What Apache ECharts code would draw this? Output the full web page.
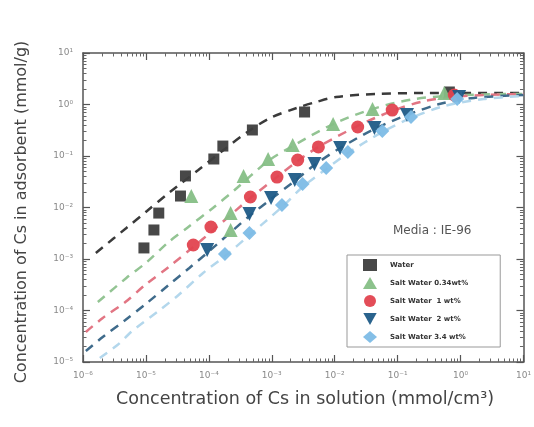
<!DOCTYPE html>
<html>
<head>
<meta charset="utf-8">
<script src="https://cdn.jsdelivr.net/npm/echarts@6/dist/echarts.min.js"></script>
<style>
  html, body { margin: 0; padding: 0; background: #fff; }
  #chart { width: 534px; height: 427px; }
</style>
</head>
<body>
<div id="chart"></div>
<script>
// tick labels
const xTickLabels = ['10⁻⁶', '10⁻⁵', '10⁻⁴', '10⁻³', '10⁻²', '10⁻¹', '10⁰', '10¹'];
const yTickLabels = ['10⁻⁵', '10⁻⁴', '10⁻³', '10⁻²', '10⁻¹', '10⁰', '10¹'];

const seriesNames = ['Water', 'Salt Water 0.34wt%', 'Salt Water  1 wt%', 'Salt Water  2 wt%', 'Salt Water 3.4 wt%'];

// measured points [C, q]
const waterPts = [[9.3e-6, 1.64e-3], [1.34e-5, 3.66e-3], [1.6e-5, 7.8e-3], [3.54e-5, 0.0167], [4.25e-5, 0.041],
  [1.2e-4, 0.0875], [1.67e-4, 0.156], [4.92e-4, 0.32], [3.32e-3, 0.715], [0.664, 1.75]];
const salt034Pts = [[5.26e-5, 0.0167], [2.22e-4, 7.8e-3], [2.22e-4, 3.66e-3], [3.56e-4, 0.041], [8.75e-4, 0.0875],
  [2.15e-3, 0.164], [9.44e-3, 0.418], [0.0399, 0.818], [0.553, 1.67]];
const salt1Pts = [[5.66e-5, 1.87e-3], [1.08e-4, 4.18e-3], [4.57e-4, 0.016], [1.21e-3, 0.039], [2.58e-3, 0.0836],
  [5.5e-3, 0.15], [0.0232, 0.366], [0.082, 0.78], [0.794, 1.53]];
const salt2Pts = [[9.4e-5, 1.5e-3], [4.42e-4, 7.5e-3], [9.75e-4, 0.0153], [2.32e-3, 0.0342], [4.77e-3, 0.07],
  [0.0122, 0.143], [0.0428, 0.35], [0.141, 0.625], [0.95, 1.4]];
const salt34Pts = [[1.8e-4, 1.25e-3], [4.42e-4, 3.2e-3], [1.45e-3, 0.0112], [3.09e-3, 0.0286], [7.33e-3, 0.0585],
  [0.0162, 0.12], [0.0571, 0.305], [0.163, 0.57], [0.885, 1.28]];

// fitted curves (dashed)
const waterFit = [[1.6e-6, 1.31e-3], [4.89e-6, 4.0e-3], [1.04e-5, 8.55e-3], [2.3e-5, 0.0191], [6.8e-5, 0.0535],
  [1.8e-4, 0.137], [4.1e-4, 0.292], [9.4e-4, 0.547], [2.49e-3, 0.855], [5.1e-3, 1.12], [0.0105, 1.4],
  [0.0445, 1.6], [0.27, 1.67], [10, 1.67]];
const salt034Fit = [[1.72e-6, 1.46e-4], [4.89e-6, 4.28e-4], [1.04e-5, 8.75e-4], [2.3e-5, 2.14e-3], [4.72e-5, 4.18e-3],
  [1.16e-4, 9.8e-3], [2.57e-4, 0.0219], [8.75e-4, 0.08], [2.15e-3, 0.156], [9.44e-3, 0.418], [0.0399, 0.818],
  [0.188, 1.28], [1.14, 1.53], [10, 1.6]];
const salt1Fit = [[1.11e-6, 3.83e-5], [2.06e-6, 7.15e-5], [4.71e-6, 1.46e-4], [9.7e-6, 3.13e-4], [2.3e-5, 7.0e-4],
  [5.66e-5, 1.71e-3], [1.08e-4, 3.34e-3], [4.57e-4, 0.0153], [1.21e-3, 0.039], [2.58e-3, 0.08], [5.5e-3, 0.15],
  [0.0232, 0.383], [0.082, 0.748], [0.269, 1.17], [1.14, 1.46], [10, 1.6]];
const salt2Fit = [[1.11e-6, 1.64e-5], [2.06e-6, 3.05e-5], [4.71e-6, 6.55e-5], [1.04e-5, 1.4e-4], [2.3e-5, 3.13e-4],
  [4.9e-5, 6.7e-4], [9.4e-5, 1.31e-3], [4.42e-4, 6.84e-3], [9.75e-4, 0.0146], [2.32e-3, 0.0327], [4.77e-3, 0.0668],
  [0.0122, 0.143], [0.0428, 0.334], [0.141, 0.625], [0.462, 1.02], [1.63, 1.34], [10, 1.53]];
const salt34Fit = [[1.85e-6, 1.2e-5], [3.53e-6, 2.14e-5], [6.06e-6, 4.0e-5], [1.66e-5, 1.02e-4], [3.3e-5, 2.0e-4],
  [8.1e-5, 5.35e-4], [1.8e-4, 1.14e-3], [4.26e-4, 2.8e-3], [1.45e-3, 0.0102], [3.09e-3, 0.025], [7.33e-3, 0.056],
  [0.0162, 0.114], [0.0571, 0.292], [0.163, 0.547], [0.553, 0.935], [2.34, 1.28], [10, 1.46]];

const markerColors = ['#3e3e3e', '#86bf86', '#e2434f', '#1f5b87', '#7dbce6'];
const lineColors = ['#3a3a3a', '#93c493', '#e27583', '#3f6b8b', '#b3d7ec'];

// minor tick positions as exponents (log10 of 2..9 x 10^e)
function minorTicks(lo, hi) {
  const out = [];
  for (let e = lo; e < hi; e++) {
    for (let m = 2; m <= 9; m++) out.push(e + Math.log10(m));
  }
  return out;
}
const xMinor = minorTicks(-6, 1);
const yMinor = minorTicks(-5, 1);

// data axis (log), carries labels and major ticks
function logAxis(dir, pos) {
  const isX = dir === 'x';
  const labels = isX ? xTickLabels : yTickLabels;
  const lowExp = isX ? -6 : -5;
  const showLabel = pos === 'bottom' || pos === 'left';
  return {
    type: 'log',
    logBase: 10,
    min: isX ? 1e-6 : 1e-5,
    max: 10,
    position: pos,
    axisLine: { show: true, onZero: false, lineStyle: { color: '#555', width: 1.5 } },
    axisTick: { show: true, inside: true, length: 7, lineStyle: { color: '#555', width: 1.2 } },
    splitLine: { show: false },
    axisLabel: {
      show: showLabel,
      color: '#8a8a8a',
      fontSize: 9,
      fontFamily: 'DejaVu Sans',
      margin: isX ? 9 : 10,
      formatter: v => labels[Math.round(Math.log10(v)) - lowExp]
    }
  };
}

// helper axis in exponent space, only draws the small ticks
function minorAxis(dir, pos) {
  const isX = dir === 'x';
  return {
    type: 'value',
    min: isX ? -6 : -5,
    max: 1,
    position: pos,
    axisLine: { show: false, onZero: false },
    axisTick: { show: true, inside: true, length: 3.5, customValues: isX ? xMinor : yMinor,
      lineStyle: { color: '#666', width: 1 } },
    axisLabel: { show: false },
    splitLine: { show: false }
  };
}

const chart = echarts.init(document.getElementById('chart'));

const ptSets = [waterPts, salt034Pts, salt1Pts, salt2Pts, salt34Pts];
const fitSets = [waterFit, salt034Fit, salt1Fit, salt2Fit, salt34Fit];
const symbols = ['rect', 'triangle', 'circle', 'triangle', 'diamond'];
const sizes = [11, 14, 13, 14, 14];
const legendIcons = ['rect', 'triangle', 'circle', 'path://M0,0L10,0L5,9Z', 'diamond'];

const series = [];
fitSets.forEach((d, i) => {
  series.push({
    name: 'fit' + i,
    type: 'line',
    data: d,
    smooth: 0.3,
    symbol: 'none',
    z: 1,
    lineStyle: { color: lineColors[i], width: 2.5, type: [9, 7] },
    silent: true
  });
});
ptSets.forEach((d, i) => {
  series.push({
    name: seriesNames[i],
    type: 'scatter',
    data: d,
    symbol: symbols[i],
    symbolSize: sizes[i],
    symbolRotate: i === 3 ? 180 : 0,
    z: 3,
    itemStyle: { color: markerColors[i], opacity: 0.95 }
  });
});

chart.setOption({
  animation: false,
  backgroundColor: '#ffffff',
  grid: { left: 83, right: 4, top: 53, bottom: 65 },
  xAxis: [logAxis('x', 'bottom'), logAxis('x', 'top'), minorAxis('x', 'bottom'), minorAxis('x', 'top')],
  yAxis: [logAxis('y', 'left'), logAxis('y', 'right'), minorAxis('y', 'left'), minorAxis('y', 'right')],
  legend: {
    data: seriesNames.map((n, i) => ({ name: n, icon: legendIcons[i] })),
    orient: 'vertical',
    left: 347,
    top: 255,
    itemWidth: 14,
    itemHeight: 12,
    itemGap: 6,
    padding: [4, 32, 4, 16],
    borderColor: '#999',
    borderWidth: 1,
    backgroundColor: '#fff',
    textStyle: { fontSize: 7, fontWeight: 'bold', color: '#333', fontFamily: 'DejaVu Sans', padding: [0, 0, 0, 8] }
  },
  graphic: [
    {
      type: 'text', left: 393, top: 225,
      style: { text: 'Media : IE-96', fontSize: 12, fill: '#555', fontFamily: 'DejaVu Sans' }
    },
    {
      type: 'text', x: 305, y: 399,
      style: { text: 'Concentration of Cs in solution (mmol/cm³)', fontSize: 17.5, fill: '#444',
        fontFamily: 'DejaVu Sans', align: 'center', verticalAlign: 'middle' }
    },
    {
      type: 'text', x: 22, y: 212, rotation: Math.PI / 2,
      style: { text: 'Concentration of Cs in adsorbent (mmol/g)', fontSize: 16, fill: '#444',
        fontFamily: 'DejaVu Sans', align: 'center', verticalAlign: 'middle' }
    }
  ],
  series: series
});
</script>
</body>
</html>
